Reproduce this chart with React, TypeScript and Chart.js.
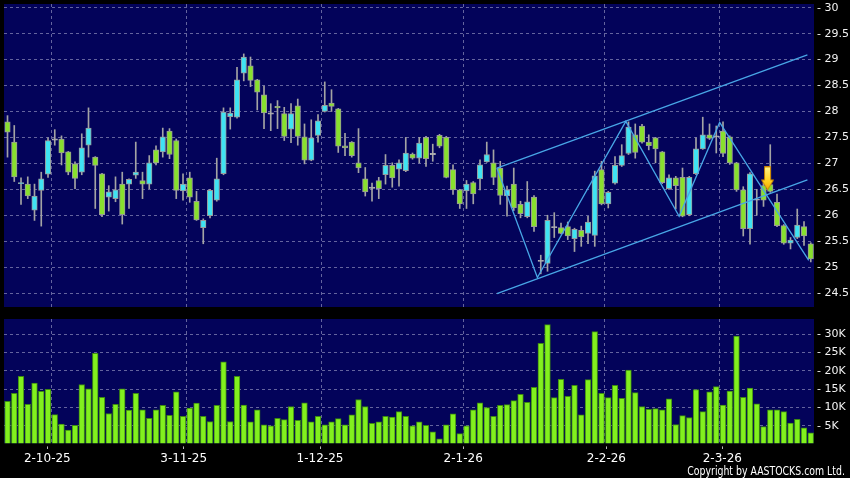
import React, { useEffect, useRef } from 'react';
import { Chart, registerables } from 'chart.js';

Chart.register(...registerables);

// ---------- DATA ----------
const opens = [
  27.80, 27.41, 26.61, 26.60, 26.10, 26.48, 26.79, 27.46, 27.47, 27.22,
  26.99, 26.83, 27.35, 27.12, 26.80, 26.35, 26.32, 26.60, 26.60, 26.77,
  26.67, 26.60, 27.26, 27.22, 27.62, 27.44, 26.47, 26.72, 26.27, 25.76,
  25.99, 26.29, 26.80, 27.90, 27.89, 28.74, 28.88, 28.61, 28.32, 27.96,
  28.10, 27.96, 27.66, 28.11, 27.51, 27.06, 27.54, 28.00, 28.16, 28.05,
  27.34, 27.41, 27.01, 26.70, 26.53, 26.67, 26.78, 26.96, 26.89, 26.86,
  27.18, 27.10, 27.50, 27.18, 27.54, 27.50, 26.88, 26.49, 26.47, 26.63,
  26.70, 27.03, 27.01, 26.91, 26.37, 26.60, 26.21, 25.97, 26.35, 25.12,
  25.07, 25.77, 25.76, 25.78, 25.55, 25.71, 25.65, 25.61, 26.88, 26.22,
  26.62, 26.96, 27.19, 27.55, 27.72, 27.41, 27.49, 27.22, 26.51, 26.72,
  26.73, 26.01, 26.80, 27.28, 27.55, 27.52, 27.62, 27.51, 27.01, 26.49,
  25.74, 26.30, 26.57, 26.59, 26.25, 25.80, 25.46, 25.57, 25.78, 25.45,
];
const highs = [
  27.92, 27.73, 26.72, 26.74, 26.60, 26.83, 27.49, 27.65, 27.53, 27.23,
  27.03, 27.57, 28.07, 27.13, 26.81, 26.57, 26.74, 26.83, 26.70, 27.41,
  26.83, 27.15, 27.34, 27.68, 27.67, 27.47, 26.80, 26.83, 26.46, 25.93,
  26.50, 27.10, 28.07, 28.07, 28.85, 29.11, 29.05, 28.62, 28.49, 28.15,
  28.21, 28.08, 28.15, 28.24, 27.76, 27.84, 27.94, 28.57, 28.42, 28.06,
  27.58, 27.42, 27.67, 26.92, 26.62, 26.73, 27.17, 27.01, 27.07, 27.50,
  27.20, 27.50, 27.52, 27.37, 27.56, 27.52, 26.97, 26.50, 26.67, 26.65,
  27.07, 27.41, 27.26, 27.04, 26.56, 26.91, 26.27, 26.65, 26.38, 25.23,
  26.00, 26.05, 25.85, 25.87, 25.75, 25.79, 25.98, 26.85, 27.04, 26.46,
  27.13, 27.36, 27.80, 27.76, 27.75, 27.55, 27.50, 27.23, 26.78, 26.75,
  26.91, 26.75, 27.49, 27.89, 27.76, 27.72, 27.80, 27.53, 27.02, 26.55,
  26.82, 26.50, 26.62, 27.36, 26.41, 25.82, 25.57, 26.12, 25.88, 25.47,
];
const lows = [
  27.12, 26.65, 26.21, 26.32, 25.90, 25.79, 26.73, 27.35, 26.97, 26.78,
  26.51, 26.78, 27.12, 26.13, 25.97, 26.08, 26.26, 25.83, 26.13, 26.71,
  26.32, 26.51, 26.97, 27.12, 27.09, 26.32, 26.29, 26.25, 25.90, 25.45,
  25.95, 26.27, 26.78, 27.66, 27.87, 28.59, 28.48, 28.03, 27.67, 27.63,
  27.67, 27.44, 27.40, 27.35, 26.99, 27.05, 27.41, 27.99, 28.00, 27.21,
  27.15, 27.12, 26.82, 26.37, 26.27, 26.32, 26.60, 26.54, 26.56, 26.84,
  27.08, 27.01, 26.94, 27.04, 27.30, 26.72, 26.40, 26.13, 26.13, 26.22,
  26.49, 27.02, 26.59, 26.21, 25.98, 26.09, 25.95, 25.95, 25.69, 24.87,
  24.92, 25.57, 25.64, 25.53, 25.30, 25.40, 25.45, 25.40, 26.20, 26.14,
  26.60, 26.94, 27.17, 27.10, 27.39, 27.26, 27.01, 26.61, 26.50, 26.12,
  25.97, 25.99, 26.78, 27.27, 27.46, 27.20, 27.13, 26.98, 26.46, 25.60,
  25.44, 26.00, 26.17, 26.44, 25.78, 25.44, 25.35, 25.55, 25.42, 25.10,
];
const closes = [
  27.60, 26.74, 26.63, 26.37, 26.37, 26.70, 27.44, 27.46, 27.20, 26.83,
  26.71, 27.30, 27.68, 26.96, 26.01, 26.45, 26.49, 26.01, 26.69, 26.83,
  26.60, 27.01, 27.01, 27.51, 27.17, 26.48, 26.60, 26.35, 25.91, 25.90,
  26.48, 26.70, 27.99, 27.97, 28.61, 29.05, 28.60, 28.37, 27.97, 27.96,
  28.07, 27.52, 27.96, 27.52, 27.06, 27.49, 27.82, 28.12, 28.10, 27.33,
  27.30, 27.15, 26.91, 26.45, 26.53, 26.51, 26.96, 26.72, 27.01, 27.20,
  27.10, 27.39, 27.09, 27.18, 27.33, 26.73, 26.49, 26.22, 26.60, 26.41,
  26.97, 27.17, 26.73, 26.38, 26.49, 26.14, 26.03, 26.26, 25.78, 25.12,
  25.90, 25.77, 25.65, 25.60, 25.73, 25.58, 25.87, 26.76, 26.22, 26.44,
  26.96, 27.15, 27.70, 27.21, 27.41, 27.34, 27.28, 26.63, 26.72, 26.57,
  25.98, 26.73, 27.28, 27.55, 27.48, 27.52, 27.19, 27.01, 26.49, 25.74,
  26.80, 26.30, 26.29, 26.46, 25.80, 25.46, 25.52, 25.81, 25.60, 25.16,
];
// volume in thousands of shares
const volumesK = [
  11.7, 13.9, 18.5, 10.9, 16.7, 14.4, 15.0, 8.1, 5.5, 3.9,
  5.2, 16.3, 15.1, 24.8, 12.8, 8.4, 10.9, 15.1, 9.3, 13.9,
  9.4, 7.1, 9.4, 10.6, 7.9, 14.3, 7.6, 9.9, 11.2, 7.6,
  6.2, 10.6, 22.5, 6.2, 18.5, 10.7, 6.1, 9.4, 5.3, 5.0,
  7.1, 6.7, 10.3, 6.5, 11.3, 6.1, 7.6, 5.3, 6.1, 7.0,
  5.3, 8.0, 12.2, 10.3, 5.7, 6.1, 7.6, 7.4, 8.9, 7.6,
  5.0, 6.1, 5.2, 3.4, 1.5, 5.3, 8.3, 2.9, 5.0, 9.4,
  11.3, 10.0, 7.6, 10.6, 10.8, 11.9, 13.6, 11.4, 15.5, 27.5,
  32.6, 12.7, 17.7, 13.1, 16.1, 8.0, 17.6, 30.7, 13.9, 12.7,
  16.1, 12.5, 20.2, 14.1, 10.3, 9.5, 9.7, 9.4, 12.4, 5.4,
  7.8, 7.3, 14.9, 8.9, 14.3, 15.7, 10.7, 14.5, 29.5, 12.8,
  15.3, 11.0, 4.8, 9.4, 9.4, 8.9, 5.8, 6.8, 4.5, 3.1,
];
// index of the first trading day of each month shown
const monthStartIndex = [6, 26, 46, 67, 88, 105];
const dateLabels = ['2-10-25', '3-11-25', '1-12-25', '2-1-26', '2-2-26', '2-3-26'];
const priceTicks = [24.5, 25, 25.5, 26, 26.5, 27, 27.5, 28, 28.5, 29, 29.5, 30];
const volumeTicks = [5, 10, 15, 20, 25, 30];
const channelUpper = [{ x: 72.5, y: 26.91 }, { x: 118.5, y: 29.09 }];
const channelLower = [{ x: 72.5, y: 24.49 }, { x: 118.5, y: 26.68 }];
const zigzag = [
  { x: 72.5, y: 26.91 }, { x: 78.5, y: 24.8 }, { x: 91.6, y: 27.81 },
  { x: 99.5, y: 25.98 }, { x: 105.5, y: 27.79 }, { x: 118.7, y: 25.13 },
];
const signalArrow = [{ x: 112.6, y: 26.71 }];

// ---------- STYLE ----------
const NAVY = '#03035a';
const GRID = '#64649e';
const UP = '#3fe3f3';
const DOWN = '#88e02e';
const DOJI = '#b4b4b4';
const WICK = '#a4a4a4';
const VOL = '#82f01e';
const VOL_EDGE = '#3d8a12';
const LINE = '#48a6e6';
const FONT = 'DejaVu Sans';

const X_MIN = -0.52;
const X_MAX = 119.48;

const plotBg = {
  id: 'plotBg',
  beforeDraw(chart: any) {
    const { ctx, chartArea } = chart;
    ctx.save();
    ctx.fillStyle = NAVY;
    ctx.fillRect(chartArea.left, chartArea.top, chartArea.right - chartArea.left, chartArea.bottom - chartArea.top);
    ctx.restore();
  },
};

function makeArrow() {
  const c = document.createElement('canvas');
  c.width = 13;
  c.height = 24;
  const g = c.getContext('2d')!;
  const grad = g.createLinearGradient(0, 0, 0, 24);
  grad.addColorStop(0, '#fff48a');
  grad.addColorStop(0.6, '#ffd21e');
  grad.addColorStop(1, '#f2a500');
  g.fillStyle = grad;
  g.strokeStyle = '#c98400';
  g.lineWidth = 1;
  g.beginPath();
  g.moveTo(3.5, 0.5);
  g.lineTo(9.5, 0.5);
  g.lineTo(9.5, 13.5);
  g.lineTo(12.5, 13.5);
  g.lineTo(6.5, 23.5);
  g.lineTo(0.5, 13.5);
  g.lineTo(3.5, 13.5);
  g.closePath();
  g.fill();
  g.stroke();
  return c;
}

function bodyRange(o: number, c: number): [number, number] {
  if (Math.abs(c - o) < 0.015) return [o - 0.012, o + 0.012];
  return [Math.min(o, c), Math.max(o, c)];
}
function candleColor(i: number) {
  const d = closes[i] - opens[i];
  if (d > 0.015) return UP;
  if (d < -0.015) return DOWN;
  return DOJI;
}
function fmtPrice(v: number) {
  return Number.isInteger(v) ? String(v) : v.toFixed(1);
}

export default function App() {
  const mainRef = useRef<HTMLCanvasElement>(null);
  const volRef = useRef<HTMLCanvasElement>(null);

  useEffect(() => {
    Chart.defaults.font.family = FONT;
    const arrowImg = makeArrow();

    const gridAxisX = () => ({
      type: 'linear' as const,
      min: X_MIN,
      max: X_MAX,
      offset: false,
      weight: 0,
      ticks: { display: false },
      grid: { offset: false, drawTicks: false, color: GRID, lineWidth: 1 },
      border: { display: false, dash: [3, 3] },
      afterBuildTicks: (s: any) => {
        s.ticks = monthStartIndex.map((k) => ({ value: k + 0.5 }));
      },
      afterFit: (s: any) => {
        s.height = 0;
        s.paddingLeft = 0;
        s.paddingRight = 0;
      },
    });

    const barCommon = {
      grouped: false,
      categoryPercentage: 1,
      barPercentage: 1,
    };

    const main = new Chart(mainRef.current!, {
      type: 'bar',
      data: {
        datasets: [
          {
            type: 'line',
            data: signalArrow,
            showLine: false,
            pointStyle: arrowImg as any,
            pointRadius: 6,
            order: -1,
          } as any,
          {
            type: 'line',
            data: zigzag,
            borderColor: LINE,
            borderWidth: 1.3,
            pointRadius: 0,
            fill: false,
            tension: 0,
            order: 0,
          } as any,
          {
            type: 'line',
            data: channelUpper,
            borderColor: LINE,
            borderWidth: 1.3,
            pointRadius: 0,
            fill: false,
            order: 0,
          } as any,
          {
            type: 'line',
            data: channelLower,
            borderColor: LINE,
            borderWidth: 1.3,
            pointRadius: 0,
            fill: false,
            order: 0,
          } as any,
          {
            type: 'bar',
            ...barCommon,
            data: opens.map((o, i) => ({ x: i, y: bodyRange(o, closes[i]) })),
            backgroundColor: opens.map((_, i) => candleColor(i)),
            borderColor: opens.map((_, i) => (candleColor(i) === DOJI ? DOJI : '#9a9a9a')),
            borderWidth: 1,
            borderSkipped: false,
            maxBarThickness: 5.5,
            order: 2,
          } as any,
          {
            type: 'bar',
            ...barCommon,
            data: lows.map((l, i) => ({ x: i, y: [l, highs[i]] })),
            backgroundColor: WICK,
            borderWidth: 0,
            maxBarThickness: 1,
            order: 3,
          } as any,
        ],
      },
      options: {
        animation: false,
        responsive: false,
        devicePixelRatio: 1,
        events: [],
        layout: { autoPadding: false, padding: { left: 4, top: 4, right: 0, bottom: 3 } },
        plugins: { legend: { display: false }, tooltip: { enabled: false } },
        scales: {
          x: gridAxisX() as any,
          y: {
            type: 'linear',
            position: 'right',
            min: 24.231,
            max: 30.072,
            afterBuildTicks: (s: any) => {
              s.ticks = priceTicks.map((v) => ({ value: v }));
            },
            ticks: {
              color: '#f2f2f2',
              font: { family: FONT, size: 11 },
              padding: 3,
              autoSkip: false,
              callback: (v: any) => '- ' + fmtPrice(Number(v)),
            },
            grid: { drawTicks: false, color: GRID, lineWidth: 1 },
            border: { display: false, dash: [3, 3] },
            afterFit: (s: any) => {
              s.width = 36;
              s.paddingTop = 0;
              s.paddingBottom = 0;
            },
          } as any,
        },
      },
      plugins: [plotBg],
    });

    const vol = new Chart(volRef.current!, {
      type: 'bar',
      data: {
        datasets: [
          {
            ...barCommon,
            data: volumesK.map((v, i) => ({ x: i, y: v })),
            backgroundColor: VOL,
            borderColor: VOL_EDGE,
            borderWidth: 1,
            borderSkipped: false,
            maxBarThickness: 5.7,
          } as any,
        ],
      },
      options: {
        animation: false,
        responsive: false,
        devicePixelRatio: 1,
        events: [],
        layout: { autoPadding: false, padding: { left: 4, top: 9, right: 0, bottom: 0 } },
        plugins: { legend: { display: false }, tooltip: { enabled: false } },
        scales: {
          x: gridAxisX() as any,
          xl: {
            type: 'linear',
            position: 'bottom',
            weight: 1,
            min: -0.352,
            max: 118.45,
            offset: false,
            afterBuildTicks: (s: any) => {
              s.ticks = monthStartIndex.map((k) => ({ value: k }));
            },
            ticks: {
              color: '#ffffff',
              font: { family: FONT, size: 12 },
              padding: 1,
              autoSkip: false,
              maxRotation: 0,
              callback: (_v: any, idx: number) => dateLabels[idx],
            },
            grid: {
              offset: false,
              drawOnChartArea: false,
              drawTicks: true,
              tickLength: 7,
              tickColor: '#b8b8b8',
              tickBorderDash: [0, 3.4, 2.6, 50],
            },
            border: { display: false },
            afterFit: (s: any) => {
              s.height = 34.7;
              s.paddingLeft = 0;
              s.paddingRight = 0;
            },
          } as any,
          y: {
            type: 'linear',
            position: 'right',
            min: 0.27,
            max: 34.14,
            afterBuildTicks: (s: any) => {
              s.ticks = volumeTicks.map((v) => ({ value: v }));
            },
            ticks: {
              color: '#f2f2f2',
              font: { family: FONT, size: 11 },
              padding: 3,
              autoSkip: false,
              callback: (v: any) => '- ' + v + 'K',
            },
            grid: { drawTicks: false, color: GRID, lineWidth: 1 },
            border: { display: false, dash: [3, 3] },
            afterFit: (s: any) => {
              s.width = 36;
              s.paddingTop = 0;
              s.paddingBottom = 0;
            },
          } as any,
        },
      },
      plugins: [plotBg],
    });

    return () => {
      main.destroy();
      vol.destroy();
    };
  }, []);

  return (
    <div
      style={{
        position: 'fixed',
        left: 0,
        top: 0,
        width: 850,
        height: 478,
        background: '#000',
        overflow: 'hidden',
      }}
    >
      <canvas
        ref={mainRef}
        width={850}
        height={310}
        style={{ position: 'absolute', left: 0, top: 0, width: 850, height: 310 }}
      />
      <canvas
        ref={volRef}
        width={850}
        height={168}
        style={{ position: 'absolute', left: 0, top: 310, width: 850, height: 168 }}
      />
      <div
        style={{
          position: 'absolute',
          right: 5,
          top: 464,
          font: `13px "${FONT}"`,
          lineHeight: '13px',
          color: '#ffffff',
          whiteSpace: 'nowrap',
          transform: 'scaleX(0.72)',
          transformOrigin: 'right top',
        }}
      >
        Copyright by AASTOCKS.com Ltd.
      </div>
    </div>
  );
}
